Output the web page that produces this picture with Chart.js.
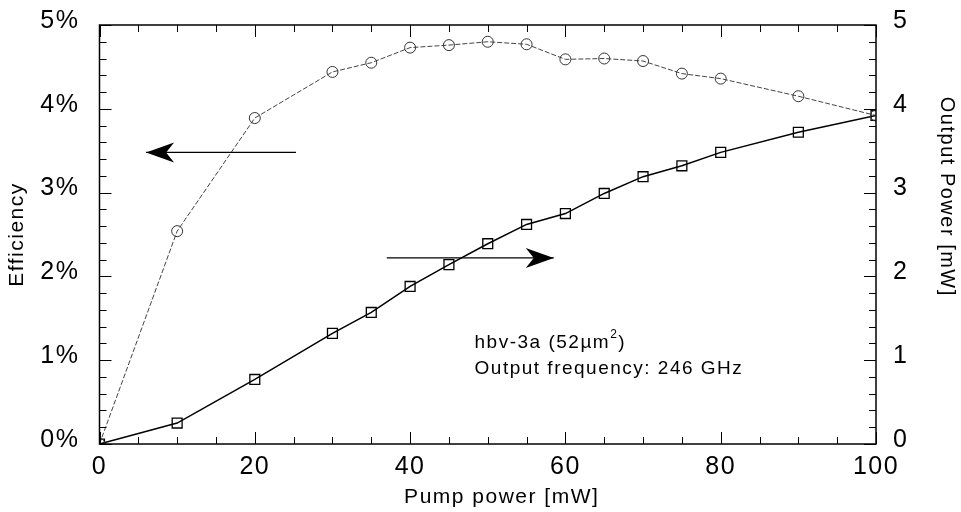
<!DOCTYPE html>
<html><head><meta charset="utf-8">
<script src="https://cdn.jsdelivr.net/npm/chart.js@4/dist/chart.umd.min.js"></script>
<style>html,body{margin:0;padding:0;background:#fff}#wrap{width:961px;height:512px}</style>
</head><body><div id="wrap"><canvas id="c" width="961" height="512"></canvas></div>
<script>
const pumpPower = [0,10,20,30,35,40,45,50,55,60,65,70,75,80,90,100];
const efficiency = [0,2.54,3.89,4.44,4.55,4.73,4.76,4.80,4.77,4.59,4.60,4.57,4.42,4.36,4.15,3.92];
const outputPower = [0,0.25,0.77,1.32,1.57,1.88,2.14,2.39,2.62,2.75,2.99,3.19,3.32,3.48,3.72,3.92];
const xTickLabels = ['0','20','40','60','80','100'];
const effTickLabels = ['0%','1%','2%','3%','4%','5%'];
const powTickLabels = ['0','1','2','3','4','5'];
const xTitle = 'Pump power [mW]';
const leftTitle = 'Efficiency';
const rightTitle = 'Output Power [mW]';
const noteLine1 = 'hbv-3a (52µm';
const noteLine2 = 'Output frequency: 246 GHz';

const FONT = '"Liberation Sans", Arial, Helvetica, sans-serif';
const SPACING = '1.5px';

const spacingPlugin = {
  id: 'spacing',
  beforeLayout(chart) { chart.ctx.letterSpacing = SPACING; },
  beforeDraw(chart) { chart.ctx.letterSpacing = SPACING; }
};

const framePlugin = {
  id: 'frame',
  afterDatasetsDraw(chart) {
    const {ctx, chartArea: a, scales} = chart;
    const sx = scales.x, sl = scales.y, sr = scales.y2;
    ctx.save();
    ctx.letterSpacing = SPACING;
    ctx.strokeStyle = '#000';
    ctx.lineWidth = 1.5;
    ctx.strokeRect(a.left, a.top, a.right - a.left, a.bottom - a.top);
    ctx.lineWidth = 1;
    for (let v = 0; v <= 100; v += 5) {
      const px = Math.round(sx.getPixelForValue(v)) + 0.5;
      const len = (v % 20 === 0) ? 12 : 7;
      ctx.beginPath();
      ctx.moveTo(px, a.bottom); ctx.lineTo(px, a.bottom - len);
      ctx.moveTo(px, a.top); ctx.lineTo(px, a.top + len);
      ctx.stroke();
    }
    for (let i = 0; i <= 25; i++) {
      const v = i * 0.2;
      const py = Math.round(sl.getPixelForValue(v)) + 0.5;
      const len = (i % 5 === 0) ? 12 : 7;
      ctx.beginPath();
      ctx.moveTo(a.left, py); ctx.lineTo(a.left + len, py);
      const pr = Math.round(sr.getPixelForValue(v)) + 0.5;
      ctx.moveTo(a.right, pr); ctx.lineTo(a.right - len, pr);
      ctx.stroke();
    }
    function arrow(x1, y1, x2, y2) {
      ctx.beginPath();
      ctx.moveTo(x1, y1); ctx.lineTo(x2, y2);
      ctx.lineWidth = 1.3; ctx.stroke();
      const dir = Math.sign(x2 - x1);
      ctx.beginPath();
      ctx.moveTo(x2, y2);
      ctx.lineTo(x2 - dir * 28, y2 - 10);
      ctx.lineTo(x2 - dir * 20, y2);
      ctx.lineTo(x2 - dir * 28, y2 + 10);
      ctx.closePath();
      ctx.fillStyle = '#000'; ctx.fill();
    }
    const ay1 = sl.getPixelForValue(3.48);
    arrow(sx.getPixelForValue(25.3), ay1, sx.getPixelForValue(6), ay1);
    const ay2 = sl.getPixelForValue(2.22);
    arrow(sx.getPixelForValue(37), ay2, sx.getPixelForValue(58.5), ay2);
    ctx.fillStyle = '#000';
    ctx.font = '19px ' + FONT;
    ctx.textBaseline = 'alphabetic';
    ctx.textAlign = 'left';
    const tx = sx.getPixelForValue(48.3);
    const t1y = sl.getPixelForValue(1.14);
    ctx.fillText(noteLine1, tx, t1y);
    const w1 = ctx.measureText(noteLine1).width;
    ctx.font = '12px ' + FONT;
    ctx.fillText('2', tx + w1, t1y - 10);
    ctx.font = '19px ' + FONT;
    ctx.fillText(')', tx + w1 + 8, t1y);
    ctx.fillText(noteLine2, tx, sl.getPixelForValue(0.83));
    ctx.font = '21px ' + FONT;
    ctx.textAlign = 'center';
    ctx.textBaseline = 'middle';
    ctx.fillText(xTitle, sx.getPixelForValue(51.8), 497);
    ctx.save();
    ctx.translate(947, sr.getPixelForValue(2.95));
    ctx.rotate(Math.PI / 2);
    ctx.font = '20px ' + FONT;
    ctx.fillText(rightTitle, 0, 0);
    ctx.restore();
    ctx.restore();
  }
};

function fixVertical(width) {
  return function (s) { s.width = width; s.paddingTop = 0; s.paddingBottom = 0; };
}

const ctx = document.getElementById('c').getContext('2d');
new Chart(ctx, {
  type: 'line',
  data: {
    datasets: [
      {
        label: 'Efficiency',
        data: pumpPower.map((x, i) => ({x, y: efficiency[i]})),
        yAxisID: 'y',
        borderColor: '#444',
        borderWidth: 1,
        borderDash: [5, 2],
        pointStyle: 'circle',
        pointRadius: 5.5,
        pointBorderWidth: 1,
        pointBorderColor: '#333',
        pointBackgroundColor: 'rgba(0,0,0,0)',
        tension: 0
      },
      {
        label: 'Output Power',
        data: pumpPower.map((x, i) => ({x, y: outputPower[i]})),
        yAxisID: 'y2',
        borderColor: '#000',
        borderWidth: 1.5,
        pointStyle: 'rect',
        pointRadius: 7,
        pointBorderWidth: 1.3,
        pointBorderColor: '#000',
        pointBackgroundColor: 'rgba(0,0,0,0)',
        tension: 0
      }
    ]
  },
  plugins: [spacingPlugin, framePlugin],
  options: {
    responsive: false,
    animation: false,
    events: [],
    layout: { padding: { top: 25, left: 0, right: 0, bottom: 0 } },
    plugins: { legend: { display: false }, tooltip: { enabled: false } },
    scales: {
      x: {
        type: 'linear', min: 0, max: 100,
        afterBuildTicks(s) { s.ticks = xTickLabels.map(t => ({value: Number(t)})); },
        afterFit(s) { s.height = 68; s.paddingLeft = 0; s.paddingRight = 0; },
        grid: { display: false, drawTicks: false },
        border: { display: false },
        ticks: { color: '#000', font: { family: FONT, size: 25 }, padding: 8, maxRotation: 0,
          callback: (v) => String(v) },
        title: { display: false }
      },
      y: {
        type: 'linear', position: 'left', min: 0, max: 5,
        afterBuildTicks(s) { s.ticks = effTickLabels.map((t, i) => ({value: i})); },
        afterFit: fixVertical(99.5),
        grid: { display: false, drawTicks: false },
        border: { display: false },
        ticks: { color: '#000', font: { family: FONT, size: 25 }, padding: 20, labelOffset: -4,
          callback: (v) => effTickLabels[Math.round(v)] },
        title: { display: true, text: leftTitle, color: '#000', font: { family: FONT, size: 21 }, padding: { top: 5, bottom: 0 } }
      },
      y2: {
        type: 'linear', position: 'right', min: 0, max: 5,
        afterBuildTicks(s) { s.ticks = powTickLabels.map((t, i) => ({value: i})); },
        afterFit: fixVertical(85),
        grid: { display: false, drawTicks: false },
        border: { display: false },
        ticks: { color: '#000', font: { family: FONT, size: 25 }, padding: 17, labelOffset: -4,
          callback: (v) => powTickLabels[Math.round(v)] },
        title: { display: false }
      }
    }
  }
});
</script>
</body></html>
